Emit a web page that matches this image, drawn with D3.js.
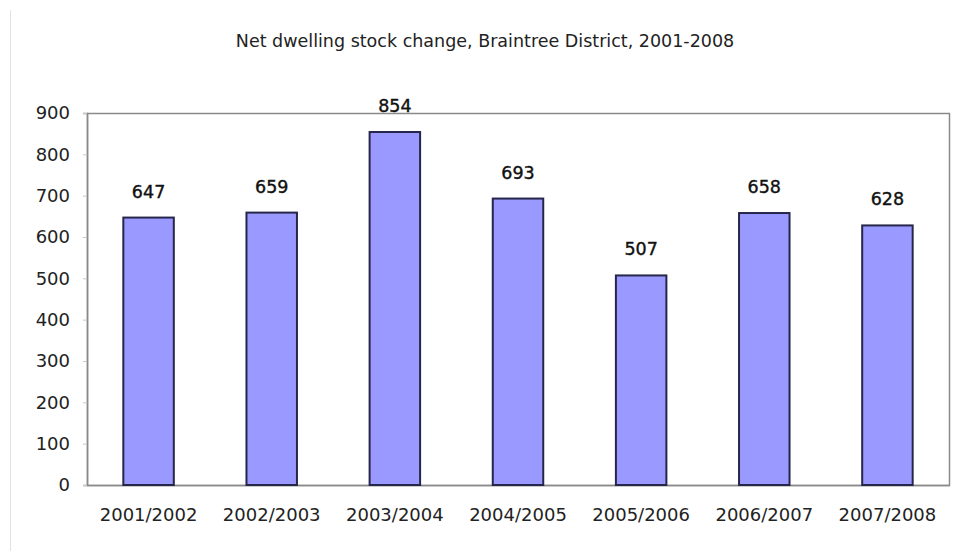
<!DOCTYPE html>
<html>
<head>
<meta charset="utf-8">
<script src="https://cdn.jsdelivr.net/npm/d3@7"></script>
<style>
  html, body { margin: 0; padding: 0; background: #fff; }
  svg { display: block; }
</style>
</head>
<body>
<script>
// Net dwelling stock change per financial year
const periods = ["2001/2002", "2002/2003", "2003/2004", "2004/2005", "2005/2006", "2006/2007", "2007/2008"];
const netChange = [647, 659, 854, 693, 507, 658, 628];
const yTicks = [0, 100, 200, 300, 400, 500, 600, 700, 800, 900];
const chartTitle = "Net dwelling stock change, Braintree District, 2001-2008";

const W = 955, H = 551;
const plot = { left: 87, right: 949, top: 113, bottom: 485 };

const svg = d3.select("body").append("svg")
  .attr("width", W).attr("height", H);

// faint page edge on the left
svg.append("line")
  .attr("x1", 10.5).attr("x2", 10.5).attr("y1", 10).attr("y2", H)
  .attr("stroke", "#e2e2e2").attr("stroke-width", 1);

const x = d3.scaleBand()
  .domain(periods)
  .range([plot.left, plot.right])
  .paddingInner(0.59)
  .paddingOuter(0.295);

const y = d3.scaleLinear()
  .domain([0, 900])
  .range([plot.bottom, plot.top]);

const font = "'DejaVu Sans', Verdana, sans-serif";

// title
svg.append("text")
  .attr("x", 485).attr("y", 47)
  .attr("text-anchor", "middle")
  .attr("font-family", font)
  .attr("font-size", 17.5)
  .attr("fill", "#222")
  .text(chartTitle);

// plot frame
svg.append("rect")
  .attr("x", plot.left + 0.5).attr("y", plot.top + 0.5)
  .attr("width", plot.right - plot.left).attr("height", plot.bottom - plot.top)
  .attr("fill", "none").attr("stroke", "#8a8a8a").attr("stroke-width", 1.5);

// y axis
const yAxis = svg.append("g")
  .attr("transform", `translate(${plot.left},0)`)
  .call(d3.axisLeft(y).tickValues(yTicks).tickSize(4).tickPadding(13).tickFormat(d3.format("d")));
yAxis.select(".domain").attr("stroke", "#8a8a8a").attr("stroke-width", 1.5);
yAxis.selectAll(".tick line").attr("stroke", "#c8c8c8");
yAxis.selectAll("text")
  .attr("font-family", font).attr("font-size", 18).attr("fill", "#222");

// x axis
const xAxis = svg.append("g")
  .attr("transform", `translate(0,${plot.bottom})`)
  .call(d3.axisBottom(x).tickSize(0).tickPadding(23));
xAxis.select(".domain").attr("stroke", "#8a8a8a").attr("stroke-width", 1.5);
xAxis.selectAll("text")
  .attr("font-family", font).attr("font-size", 18).attr("fill", "#222");

// bars
svg.append("g").selectAll("rect")
  .data(periods)
  .join("rect")
  .attr("x", d => x(d))
  .attr("y", (d, i) => y(netChange[i]))
  .attr("width", x.bandwidth())
  .attr("height", (d, i) => plot.bottom - y(netChange[i]))
  .attr("fill", "#9999ff")
  .attr("stroke", "#26264a")
  .attr("stroke-width", 2);

// value labels
svg.append("g").selectAll("text")
  .data(periods)
  .join("text")
  .attr("x", d => x(d) + x.bandwidth() / 2)
  .attr("y", (d, i) => y(netChange[i]) - 20)
  .attr("text-anchor", "middle")
  .attr("font-family", font)
  .attr("font-size", 17.5)
  .attr("fill", "#111")
  .attr("stroke", "#111").attr("stroke-width", 0.4)
  .text((d, i) => netChange[i]);
</script>
</body>
</html>
